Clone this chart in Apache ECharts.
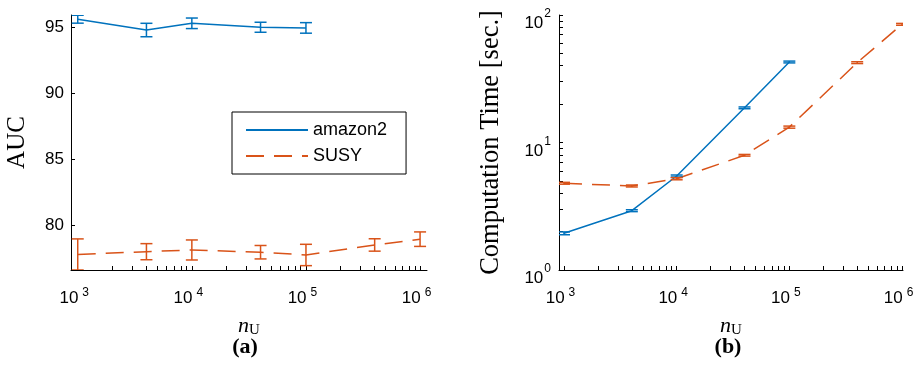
<!DOCTYPE html>
<html>
<head>
<meta charset="utf-8">
<script src="https://cdn.jsdelivr.net/npm/echarts@6/dist/echarts.min.js"></script>
<style>
  html, body { margin: 0; padding: 0; background: #fff; }
  #main { width: 920px; height: 370px; }
</style>
</head>
<body>
<div id="main"></div>
<script>
// sample sizes n_U
let nU = [1e3, 4e3, 1e4, 4e4, 1e5, 4e5, 1e6];

// (a) AUC, mean and half error bar
let aucAmazon = [95.61, 94.79, 95.30, 95.00, 94.95];
let aucAmazonErr = [0.30, 0.51, 0.40, 0.38, 0.40];
let aucSusy = [77.76, 77.97, 78.10, 77.93, 77.72, 78.48, 78.92];
let aucSusyErr = [1.18, 0.61, 0.76, 0.51, 0.81, 0.47, 0.55];

// (b) computation time [sec.]
let timeAmazon = [1.94, 2.92, 5.46, 18.7, 42.8];
let timeAmazonErr = [0.05, 0.05, 0.10, 0.30, 0.70];
let timeSusy = [4.79, 4.56, 5.20, 7.94, 13.2, 42.3, 84.5];
let timeSusyErr = [0.08, 0.08, 0.10, 0.12, 0.25, 0.70, 1.40];

// ticks
let xLabelVals = [1e3, 1e4, 1e5, 1e6];
let aucLabelVals = [80, 85, 90, 95];
let timeLabelVals = [1, 10, 100];
let minorMult = [1, 2, 3, 4, 5, 6, 7, 8, 9];

const BLUE = '#0072BD';
const ORANGE = '#D95319';
const SANS = 'Liberation Sans, Arial, sans-serif';
const SERIF = 'Liberation Serif, Times New Roman, serif';

function logTicks(decades, last) {
  let out = [];
  decades.forEach(function (d) {
    minorMult.forEach(function (m) { out.push(m * d); });
  });
  out.push(last);
  return out;
}
let xTicks = logTicks([1e3, 1e4, 1e5], 1e6);
let timeTicks = logTicks([1, 10], 100);

function pairs(xs, ys) {
  return ys.map(function (v, i) { return [xs[i], v]; });
}
function errData(xs, ys, es) {
  return ys.map(function (v, i) { return [xs[i], v - es[i], v + es[i]]; });
}

function powLabel(v) {
  return '{b|10}{s|' + Math.round(Math.log10(v)) + '}';
}

let xRich = {
  b: { fontSize: 17, fontFamily: SANS, color: '#000', lineHeight: 20, verticalAlign: 'bottom' },
  s: { fontSize: 12, fontFamily: SANS, color: '#000', lineHeight: 11, verticalAlign: 'top', padding: [0, 7, 0, 4] }
};
let yRich = {
  b: { fontSize: 17, fontFamily: SANS, color: '#000', lineHeight: 24, verticalAlign: 'bottom' },
  s: { fontSize: 12, fontFamily: SANS, color: '#000', lineHeight: 10, verticalAlign: 'top', padding: [0, 0, 0, 1] }
};
let nameRich = {
  n: { fontSize: 22, fontFamily: SERIF, fontStyle: 'italic', color: '#000', lineHeight: 24, verticalAlign: 'middle' },
  u: { fontSize: 15, fontFamily: SERIF, color: '#000', lineHeight: 16, verticalAlign: 'bottom', padding: [6, 0, 0, 0] }
};

function errorBarItem(params, api) {
  let x = api.value(0);
  let lo = api.coord([x, api.value(1)]);
  let hi = api.coord([x, api.value(2)]);
  let w = 6;
  let style = { stroke: api.visual('color'), lineWidth: 1.5, fill: null };
  return {
    type: 'group',
    children: [
      { type: 'line', shape: { x1: lo[0], y1: lo[1], x2: hi[0], y2: hi[1] }, style: style },
      { type: 'line', shape: { x1: lo[0] - w, y1: lo[1], x2: lo[0] + w, y2: lo[1] }, style: style },
      { type: 'line', shape: { x1: hi[0] - w, y1: hi[1], x2: hi[0] + w, y2: hi[1] }, style: style }
    ]
  };
}

function xAxisFor(gi, min, max) {
  return {
    gridIndex: gi,
    type: 'log',
    logBase: 10,
    min: min,
    max: max,
    axisLine: { show: true, onZero: false, lineStyle: { color: '#000', width: 1 } },
    axisTick: { show: true, inside: true, length: 4, customValues: xTicks, lineStyle: { color: '#000', width: 1 } },
    axisLabel: { customValues: xLabelVals, formatter: powLabel, rich: xRich, margin: 17 },
    splitLine: { show: false },
    minorTick: { show: false },
    name: '{n|n}{u|U}',
    nameLocation: 'middle',
    nameGap: 44,
    nameTextStyle: { rich: nameRich }
  };
}

function lineSeries(name, xi, yi, data, color, dashed) {
  return {
    name: name,
    type: 'line',
    xAxisIndex: xi,
    yAxisIndex: yi,
    data: data,
    symbol: 'none',
    color: color,
    lineStyle: { color: color, width: 1.5, type: dashed ? [18, 10] : 'solid' },
    z: 2
  };
}

function errSeries(xi, yi, data, color) {
  return {
    type: 'custom',
    xAxisIndex: xi,
    yAxisIndex: yi,
    data: data,
    renderItem: errorBarItem,
    itemStyle: { color: color },
    encode: { x: 0, y: [1, 2] },
    clip: true,
    z: 3
  };
}

let option = {
  animation: false,
  backgroundColor: '#fff',
  grid: [
    { left: 71, right: 493, top: 15, bottom: 100, outerBoundsMode: 'none' },
    { left: 559, right: 17, top: 15, bottom: 100, outerBoundsMode: 'none' }
  ],
  xAxis: [
    xAxisFor(0, 873, 1.15e6),
    xAxisFor(1, 903, 1.02e6)
  ],
  yAxis: [
    {
      gridIndex: 0,
      type: 'value',
      min: 76.58,
      max: 95.93,
      axisLine: { show: true, lineStyle: { color: '#000', width: 1 } },
      axisTick: { show: true, inside: true, length: 4, customValues: aucLabelVals, lineStyle: { color: '#000' } },
      axisLabel: { customValues: aucLabelVals, color: '#000', fontSize: 17, fontFamily: SANS, margin: 7 },
      splitLine: { show: false },
      name: 'AUC',
      nameLocation: 'middle',
      nameGap: 41,
      nameTextStyle: { fontFamily: SERIF, fontSize: 25, color: '#000' }
    },
    {
      gridIndex: 1,
      type: 'log',
      logBase: 10,
      min: 1,
      max: 100,
      axisLine: { show: true, lineStyle: { color: '#000', width: 1 } },
      axisTick: { show: true, inside: true, length: 4, customValues: timeTicks, lineStyle: { color: '#000' } },
      axisLabel: { customValues: timeLabelVals, formatter: powLabel, rich: yRich, margin: 8, padding: [10, 0, 0, 0] },
      splitLine: { show: false },
      minorTick: { show: false },
      name: 'Computation Time [sec.]',
      nameLocation: 'middle',
      nameGap: 54,
      nameTextStyle: { fontFamily: SERIF, fontSize: 26.5, color: '#000' }
    }
  ],
  legend: {
    data: ['amazon2', 'SUSY'],
    orient: 'vertical',
    left: 232,
    top: 112,
    itemWidth: 62,
    itemHeight: 18,
    itemGap: 8,
    padding: [9, 19, 9, 13],
    borderColor: '#000',
    borderWidth: 1,
    backgroundColor: '#fff',
    selectedMode: false,
    itemStyle: { opacity: 0 },
    textStyle: { fontSize: 18, fontFamily: SANS, color: '#000' }
  },
  graphic: [
    { type: 'text', x: 245, y: 347, style: { text: '(a)', font: 'bold 22px ' + SERIF, fill: '#000', textAlign: 'center', textVerticalAlign: 'middle' } },
    { type: 'text', x: 728, y: 347, style: { text: '(b)', font: 'bold 22px ' + SERIF, fill: '#000', textAlign: 'center', textVerticalAlign: 'middle' } }
  ],
  series: [
    lineSeries('amazon2', 0, 0, pairs(nU, aucAmazon), BLUE, false),
    errSeries(0, 0, errData(nU, aucAmazon, aucAmazonErr), BLUE),
    lineSeries('SUSY', 0, 0, pairs(nU, aucSusy), ORANGE, true),
    errSeries(0, 0, errData(nU, aucSusy, aucSusyErr), ORANGE),
    lineSeries('amazon2', 1, 1, pairs(nU, timeAmazon), BLUE, false),
    errSeries(1, 1, errData(nU, timeAmazon, timeAmazonErr), BLUE),
    lineSeries('SUSY', 1, 1, pairs(nU, timeSusy), ORANGE, true),
    errSeries(1, 1, errData(nU, timeSusy, timeSusyErr), ORANGE)
  ]
};

let chart = echarts.init(document.getElementById('main'));
chart.setOption(option);
</script>
</body>
</html>
